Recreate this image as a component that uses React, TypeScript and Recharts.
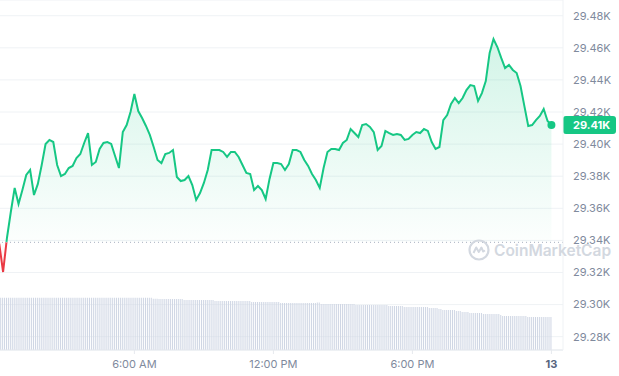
import React from 'react';
import {
  ComposedChart,
  Area,
  Bar,
  XAxis,
  YAxis,
  CartesianGrid,
  ReferenceLine,
  ReferenceDot,
} from 'recharts';

// first sample at 00:10, prices every 10 min, volume every 5 min
const START_HOUR = 10 / 60;

const prices = [
  29338.0, 29320.3, 29341.5, 29357.7, 29372.7, 29362.7, 29371.4, 29380.8, 29383.9, 29368.3,
  29375.2, 29387.0, 29400.1, 29402.6, 29401.3, 29387.0, 29380.1, 29381.4, 29385.1, 29386.4,
  29391.3, 29393.8, 29400.7, 29406.9, 29387.0, 29388.9, 29397.0, 29400.7, 29401.3, 29400.1,
  29392.6, 29385.1, 29407.5, 29411.9, 29420.0, 29431.2, 29420.6, 29416.3, 29411.3, 29405.7,
  29398.2, 29390.1, 29388.2, 29393.8, 29394.5, 29396.3, 29379.5, 29377.0, 29377.6, 29380.1,
  29374.5, 29365.2, 29369.5, 29375.8, 29383.9, 29396.3, 29396.3, 29396.3, 29395.1, 29392.0,
  29395.1, 29395.1, 29392.0, 29387.0, 29382.0, 29381.4, 29371.4, 29373.9, 29371.4, 29365.8,
  29378.3, 29388.2, 29388.2, 29387.6, 29383.9, 29387.6, 29396.3, 29396.3, 29395.1, 29390.1,
  29386.4, 29381.4, 29377.6, 29372.7, 29385.1, 29395.1, 29397.0, 29397.0, 29396.3, 29400.7,
  29402.6, 29409.4, 29406.9, 29404.4, 29411.9, 29412.5, 29410.7, 29407.5, 29396.3, 29398.8,
  29408.2, 29406.9, 29405.7, 29406.3, 29405.7, 29402.6, 29403.2, 29405.7, 29407.5, 29406.9,
  29409.4, 29408.2, 29401.3, 29397.0, 29398.2, 29415.0, 29418.1, 29425.0, 29428.7, 29425.6,
  29428.7, 29433.7, 29436.8, 29436.2, 29426.9, 29431.8, 29439.3, 29456.8, 29465.5, 29460.5,
  29453.7, 29447.4, 29449.3, 29446.2, 29444.3, 29436.2, 29423.7, 29411.3, 29411.9, 29415.0,
  29417.5, 29421.9, 29414.4, 29411.9,
];

// 24h volume in $B, as [value, number of 5-min bars]
const volumeRuns: [number, number][] = [
  [13.08, 80], [12.83, 3], [12.75, 13], [12.5, 16], [12.25, 19], [12.0, 15],
  [11.75, 19], [11.9, 2], [11.5, 18], [11.25, 17], [11.0, 8], [10.75, 13],
  [10.5, 5], [10.25, 2], [10.0, 7], [9.75, 3], [9.5, 4], [9.25, 7],
  [9.0, 9], [8.75, 1], [8.5, 13], [8.25, 13],
];

const openPrice = 29338.8;
const priceTicks = [29280, 29300, 29320, 29340, 29360, 29380, 29400, 29420, 29440, 29460, 29480];
const hourTicks = [6, 12, 18, 24];
const hourLabels: Record<number, string> = { 6: '6:00 AM', 12: '12:00 PM', 18: '6:00 PM', 24: '13' };

const GREEN = '#16c784';
const RED = '#ea3943';
const FONT = 'Inter, "Noto Sans", sans-serif';

const volumes: number[] = [];
volumeRuns.forEach(([v, n]) => {
  for (let i = 0; i < n; i++) volumes.push(v);
});

const data = volumes.map((volume, j) => ({
  t: START_HOUR + j / 12,
  volume,
  price: j % 2 === 0 ? prices[j / 2] : undefined,
}));

const lastPrice = prices[prices.length - 1];
const lastTime = START_HOUR + (prices.length - 1) / 6;
const maxPrice = Math.max(...prices);
const minPrice = Math.min(...prices);
const splitOffset = (maxPrice - openPrice) / (maxPrice - minPrice);

const fmtK = (v: number) => `${(v / 1000).toFixed(2)}K`;

const HourTick = (props: any) => {
  const { x, y, payload } = props;
  const isDay = payload.value === 24;
  return (
    <text
      x={x}
      y={y}
      dy="0.71em"
      textAnchor="middle"
      fontFamily={FONT}
      fontSize={11}
      fontWeight={isDay ? 700 : 400}
      fill={isDay ? '#58667e' : '#808a9d'}
    >
      {hourLabels[payload.value]}
    </text>
  );
};

const PriceBadge = (props: any) => {
  const { viewBox } = props;
  const x = viewBox.x + viewBox.width;
  const y = viewBox.y;
  return (
    <g>
      <rect x={x} y={y - 9} width={53} height={18} rx={3} fill={GREEN} />
      <text x={x + 10} y={y} dy="0.355em" fontFamily={FONT} fontSize={11} fontWeight={700} fill="#fff">
        {fmtK(lastPrice)}
      </text>
    </g>
  );
};

const Watermark = () => (
  <div
    style={{
      position: 'absolute',
      left: 468,
      top: 239,
      display: 'flex',
      alignItems: 'center',
      gap: 4,
      pointerEvents: 'none',
      color: '#d3d8e0',
      fontFamily: FONT,
      fontWeight: 600,
      fontSize: 15.5,
    }}
  >
    <svg width={22} height={22} viewBox="0 0 22 22">
      <circle cx={11} cy={11} r={9.5} fill="none" stroke="#d3d8e0" strokeWidth={2.2} />
      <path d="M5.5 14 L8.2 8.5 L10.8 13 L13.4 8.5 L15.2 12.5 L17 11.5" fill="none" stroke="#d3d8e0" strokeWidth={2} strokeLinejoin="round" />
    </svg>
    <span>CoinMarketCap</span>
  </div>
);

export default function App() {
  return (
    <div style={{ position: 'absolute', left: 0, top: 0, width: 619, height: 376, background: '#fff' }}>
      <ComposedChart width={619} height={376} data={data} margin={{ top: 0, right: 0, bottom: 0, left: 0 }}>
        <defs>
          <linearGradient id="priceStroke" x1="0" y1="0" x2="0" y2="1">
            <stop offset={0} stopColor={GREEN} />
            <stop offset={splitOffset} stopColor={GREEN} />
            <stop offset={splitOffset} stopColor={RED} />
            <stop offset={1} stopColor={RED} />
          </linearGradient>
          <linearGradient id="priceFill" x1="0" y1="0" x2="0" y2="1">
            <stop offset={0} stopColor={GREEN} stopOpacity={0.32} />
            <stop offset={splitOffset} stopColor={GREEN} stopOpacity={0.02} />
            <stop offset={splitOffset} stopColor={RED} stopOpacity={0.02} />
            <stop offset={1} stopColor={RED} stopOpacity={0.2} />
          </linearGradient>
        </defs>
        <CartesianGrid yAxisId="price" vertical={false} stroke="#eff2f5" />
        <XAxis
          dataKey="t"
          type="number"
          domain={[0.2, 24.5]}
          allowDataOverflow
          ticks={hourTicks}
          tick={<HourTick />}
          tickSize={4}
          tickMargin={6}
          height={26}
          stroke="#e6e9ee"
        />
        <YAxis
          yAxisId="price"
          orientation="right"
          width={56}
          domain={[29271.7, 29489.8]}
          allowDataOverflow
          ticks={priceTicks}
          interval={0}
          tickFormatter={fmtK}
          tickLine={false}
          tickSize={0}
          tickMargin={10}
          stroke="#eff2f5"
          tick={{ fill: '#808a9d', fontSize: 11, fontFamily: FONT, textAnchor: 'start' }}
        />
        <YAxis yAxisId="vol" hide domain={[0, 87.5]} allowDataOverflow />
        <Bar yAxisId="vol" dataKey="volume" fill="#cfd6e4" barSize={1} isAnimationActive={false} />
        <ReferenceLine yAxisId="price" y={openPrice} stroke="#a7b0c0" strokeDasharray="1 3" />
        <Area
          yAxisId="price"
          type="linear"
          dataKey="price"
          baseValue={openPrice}
          connectNulls
          stroke="url(#priceStroke)"
          strokeWidth={2}
          fill="url(#priceFill)"
          dot={false}
          activeDot={false}
          isAnimationActive={false}
        />
        <ReferenceDot yAxisId="price" x={lastTime} y={lastPrice} r={4} fill={GREEN} stroke="none" />
        <ReferenceLine yAxisId="price" y={lastPrice} stroke="transparent" label={PriceBadge} />
      </ComposedChart>
      <Watermark />
    </div>
  );
}
